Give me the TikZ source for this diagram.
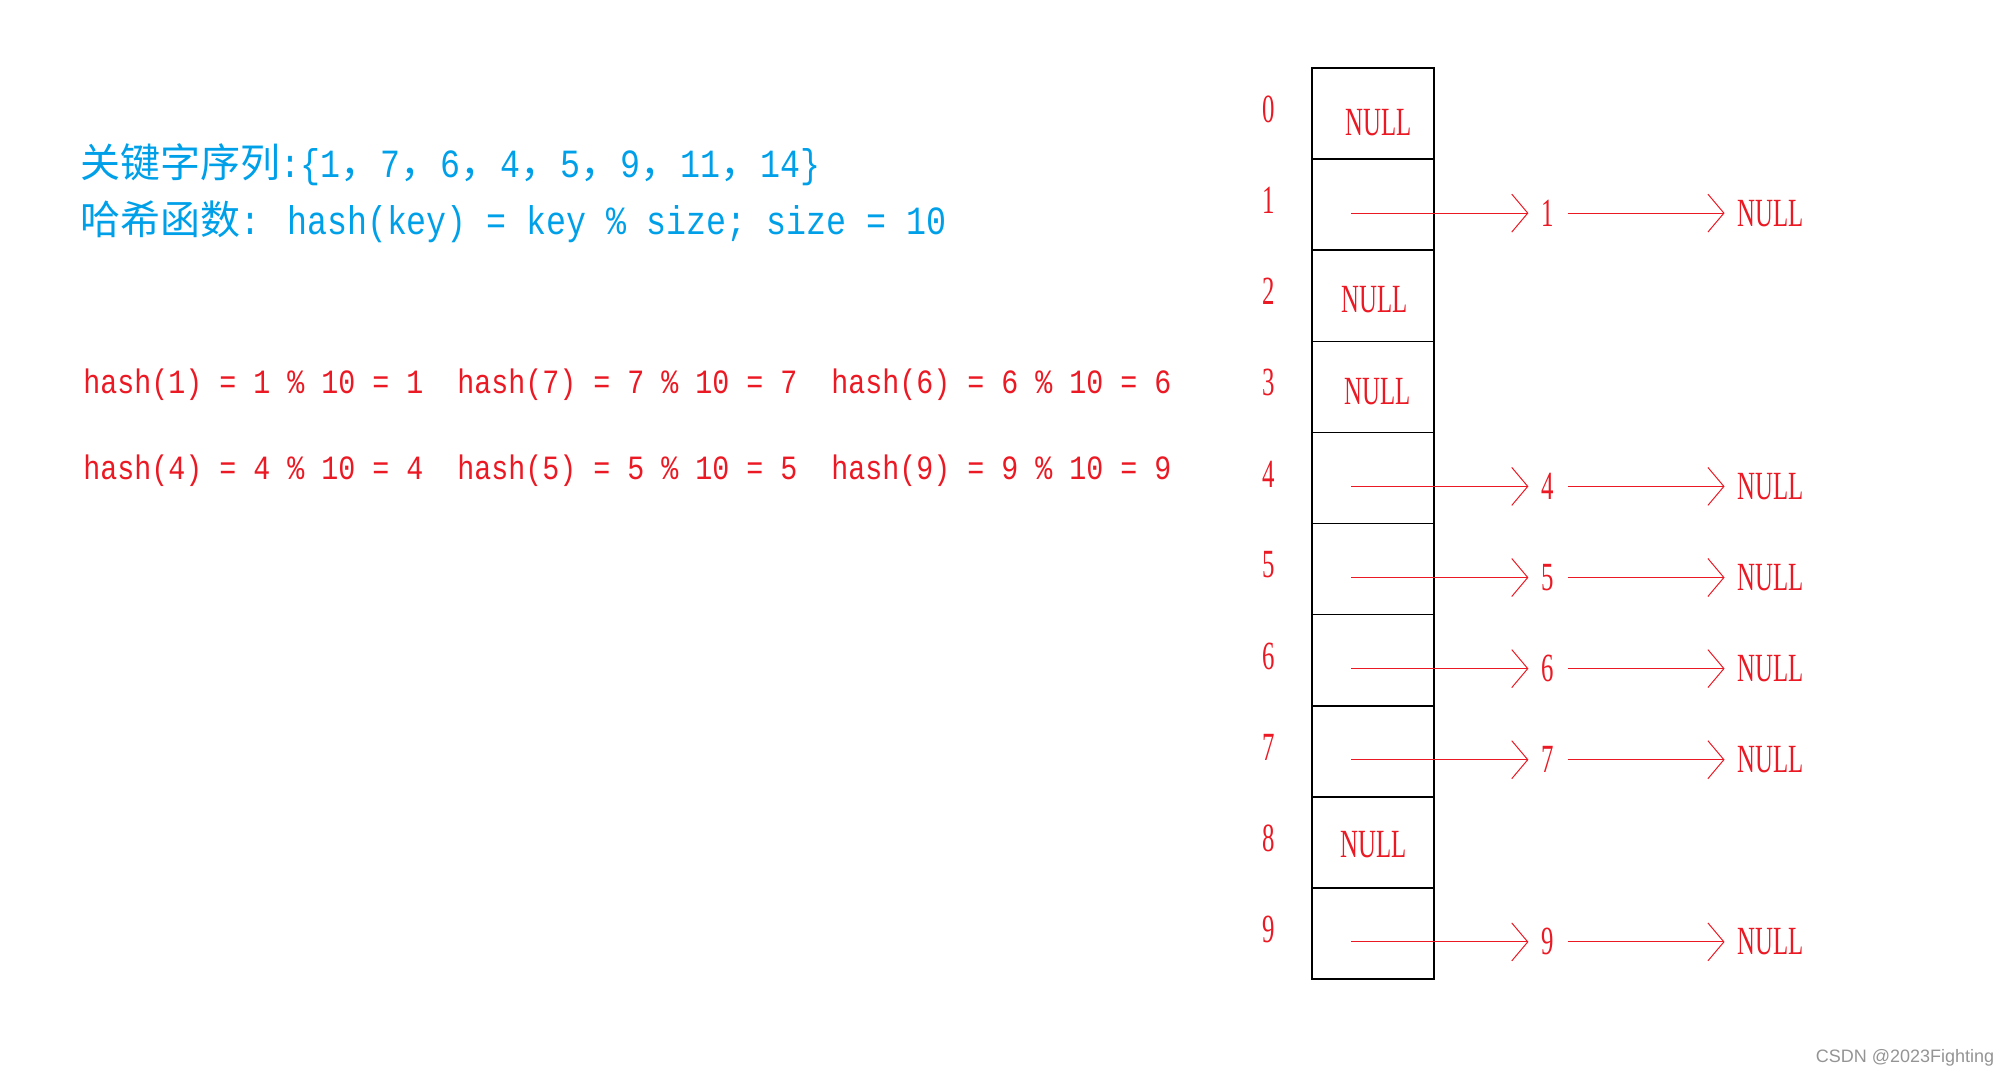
\documentclass[tikz,border=0pt]{standalone}
\usepackage{fontspec}
\usetikzlibrary{arrows.meta}
\newfontfamily\cjkfont{Noto Sans CJK SC}
\newfontfamily\codefont[FakeStretch=0.833]{Liberation Mono}
\newfontfamily\tabfont[FakeStretch=0.62]{Liberation Serif}
\newfontfamily\markfont{Liberation Sans}
\definecolor{keyblue}{RGB}{0,160,233}
\definecolor{hashred}{RGB}{235,25,35}
\def\cn#1{{\cjkfont #1}}

\tikzset{
	title/.style={text=keyblue, inner sep=0pt, font=\fontsize{20}{24}\selectfont\codefont},
	calcline/.style={text=hashred, inner sep=0pt, font=\fontsize{17}{20}\selectfont\codefont},
	cell/.style={draw=black, line width=0.8pt, minimum width=61pt, minimum height=45.55pt, inner sep=0pt, outer sep=0pt},
	word/.style={text=hashred, inner sep=6.5pt, font=\fontsize{20}{24}\selectfont\tabfont},
	link/.style={draw=hashred, line width=0.5pt, -{Straight Barb[length=8pt,width=19pt]}},
	wmark/.style={text=black!42, inner sep=0pt, font=\fontsize{9}{11}\selectfont\markfont}
}

\begin{document}
\begin{tikzpicture}[x=0.5pt, y=-0.5pt]
		%%%%% START %%%%%
		\useasboundingbox (0,0) rectangle (2004,1077);
		
		% keys and hash function
		\node[title, anchor=base west] (keys) at (80,177) {\cn{关键字序列}:\{1\cn{，}7\cn{，}6\cn{，}4\cn{，}5\cn{，}9\cn{，}11\cn{，}14\}};
		\node[title, anchor=base west] (func) at (80,234) {\cn{哈希函数}: hash(key) = key \% size; size = 10};
		
		% hash values
		\foreach \k/\x in {1/83, 7/457, 6/831}
			\node[calcline, anchor=base west] (h\k) at (\x,393) {hash(\k) = \k{} \% 10 = \k};
		\foreach \k/\x in {4/83, 5/457, 9/831}
			\node[calcline, anchor=base west] (h\k) at (\x,479) {hash(\k) = \k{} \% 10 = \k};
		
		% table
		\foreach \i in {0,...,9} {
			\node[cell] (c\i) at (1373, {113.55+91.1*\i}) {};
			\node[word] (i\i) at (1269, {109.5+91.1*\i}) {\i};
		}
		\foreach \i/\x/\y in {0/1379/123, 2/1375/300, 3/1378/392, 8/1374/845}
			\node[word] (e\i) at (\x,\y) {NULL};
		
		% chains
		\foreach \i in {1,4,5,6,7,9} {
			\coordinate (s\i) at (1351, {122+91.1*\i});
			\node[word] (v\i) at (1548, {122+91.1*\i}) {\i};
			\node[word] (n\i) at (1771, {122+91.1*\i}) {NULL};
			\draw[link] (s\i) -- (v\i);
			\draw[link] (v\i) -- (n\i);
		}
		
		\node[wmark] (wm) at (1905,1058) {CSDN @2023Fighting};
		%%%%% END %%%%%
	\end{tikzpicture}
\end{document}
